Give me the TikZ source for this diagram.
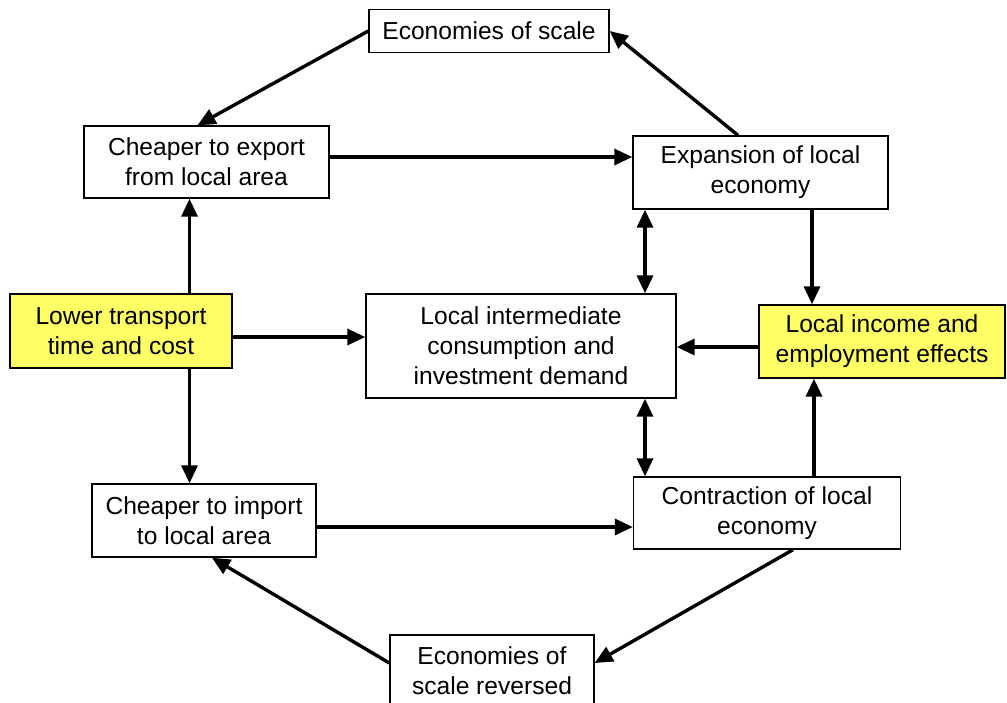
\documentclass[tikz,border=0pt]{standalone}
\usepackage{fontspec}
\setmainfont{Liberation Sans}
\usetikzlibrary{arrows.meta}
\definecolor{boxyellow}{RGB}{255,255,102}
\begin{document}
\begin{tikzpicture}[x=1pt,y=-1pt,
  box/.style={draw=black,line width=1.4pt,fill=white,rectangle,align=center,inner sep=0pt,
    font=\fontsize{24.6}{30}\selectfont},
  ybox/.style={box,fill=boxyellow},
  arr/.style={line width=3.4pt,-{Triangle[length=18pt,width=16pt]}},
  darr/.style={line width=3.4pt,{Triangle[length=18pt,width=16pt]}-{Triangle[length=18pt,width=16pt]}}]
\clip (0,0) rectangle (1007,702);
\fill[white] (0,0) rectangle (1007,702);
\node[box,minimum width=240pt,minimum height=43pt] (eos) at (489,31) {Economies of scale};
\node[box,minimum width=245pt,minimum height=72pt] (exq) at (206.5,162) {Cheaper to export\\from local area};
\node[box,minimum width=255pt,minimum height=73pt] (expn) at (760.5,172.5) {Expansion of local\\economy};
\node[ybox,minimum width=222pt,minimum height=74pt] (lower) at (121,331) {Lower transport\\time and cost};
\node[box,minimum width=310pt,minimum height=104pt] (lid) at (521,346) {Local intermediate\\consumption and\\investment demand};
\node[ybox,minimum width=246pt,minimum height=73pt] (inc) at (882,341.5) {Local income and\\employment effects};
\node[box,minimum width=224pt,minimum height=73pt] (imp) at (204,520.5) {Cheaper to import\\to local area};
\node[box,minimum width=267pt,minimum height=72pt] (con) at (767,513) {Contraction of local\\economy};
\node[box,minimum width=204pt,minimum height=72pt] (eosr) at (492,671) {Economies of\\scale reversed};
\draw[arr] (eos.west) -- ([xshift=-9pt]exq.north);
\draw[arr] ([xshift=-22.5pt]expn.north) -- (eos.east);
\draw[arr] ([yshift=5pt]exq.east) -- ([yshift=15.5pt]expn.west);
\draw[arr] ([xshift=51.5pt]expn.south) -- ([xshift=-70pt]inc.north);
\draw[darr] ([xshift=-115.5pt]expn.south) -- ([xshift=124pt]lid.north);
\draw[arr] ([yshift=-5.5pt]inc.west) -- ([yshift=-1pt]lid.east);
\draw[arr] ([yshift=-6pt]lower.east) -- ([yshift=9pt]lid.west);
\draw[arr] ([xshift=68.5pt]lower.north) -- ([xshift=-17pt]exq.south);
\draw[arr] ([xshift=68.5pt]lower.south) -- ([xshift=-14.5pt]imp.north);
\draw[darr] ([xshift=124pt]lid.south) -- ([xshift=-122pt]con.north);
\draw[arr] ([xshift=47pt]con.north) -- ([xshift=-68pt]inc.south);
\draw[arr] ([yshift=-6.5pt]imp.east) -- ([yshift=-14pt]con.west);
\draw[arr] ([xshift=26pt]con.south) -- ([yshift=8pt]eosr.east);
\draw[arr] ([yshift=8pt]eosr.west) -- ([xshift=8pt]imp.south);
\end{tikzpicture}
\end{document}
